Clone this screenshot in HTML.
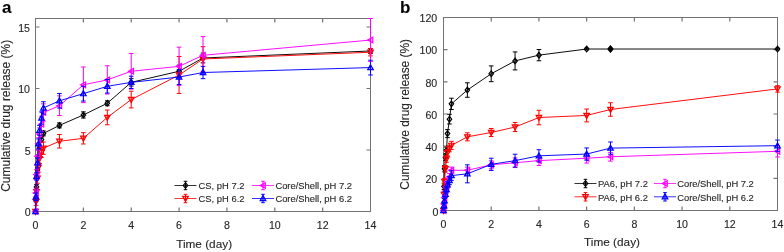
<!DOCTYPE html>
<html><head><meta charset="utf-8"><style>
html,body{margin:0;padding:0;background:#fff;}
body{width:784px;height:252px;overflow:hidden;}
svg{display:block;font-family:"Liberation Sans",sans-serif;filter:blur(0.4px);}
text{stroke:#262626;stroke-width:0.12px;}
</style></head><body>
<svg width="784" height="252" viewBox="0 0 784 252">
<rect x="35.5" y="18.5" width="335.0" height="193.0" fill="none" stroke="#737373"/>
<path d="M83.36 211.5V207.5M83.36 18.5V22.5M131.21 211.5V207.5M131.21 18.5V22.5M179.07 211.5V207.5M179.07 18.5V22.5M226.93 211.5V207.5M226.93 18.5V22.5M274.79 211.5V207.5M274.79 18.5V22.5M322.64 211.5V207.5M322.64 18.5V22.5M35.5 150.00H39.5M370.5 150.00H366.5M35.5 88.50H39.5M370.5 88.50H366.5M35.5 27.00H39.5M370.5 27.00H366.5" fill="none" stroke="#737373" stroke-width="1.2"/>
<rect x="443.5" y="17.5" width="334.0" height="193.0" fill="none" stroke="#737373"/>
<path d="M491.21 210.5V206.5M491.21 17.5V21.5M538.93 210.5V206.5M538.93 17.5V21.5M586.64 210.5V206.5M586.64 17.5V21.5M634.36 210.5V206.5M634.36 17.5V21.5M682.07 210.5V206.5M682.07 17.5V21.5M729.79 210.5V206.5M729.79 17.5V21.5M443.5 178.33H447.5M777.5 178.33H773.5M443.5 146.17H447.5M777.5 146.17H773.5M443.5 114.00H447.5M777.5 114.00H773.5M443.5 81.83H447.5M777.5 81.83H773.5M443.5 49.67H447.5M777.5 49.67H773.5" fill="none" stroke="#737373" stroke-width="1.2"/>
<defs><clipPath id="ca"><rect x="30" y="18" width="345" height="200"/></clipPath><clipPath id="cb"><rect x="438" y="17" width="345" height="200"/></clipPath></defs>
<g clip-path="url(#ca)">
<polyline points="35.50,211.50 36.00,199.20 36.51,186.90 37.49,169.68 38.49,157.38 39.50,147.54 41.48,139.55 43.47,133.39 59.43,125.40 83.36,114.94 107.29,103.26 131.21,82.35 179.07,71.28 203.00,58.00 370.50,50.98" fill="none" stroke="#000000" stroke-width="0.95"/>
<path d="M35.50 208.70L37.74 211.50L35.50 214.30L33.26 211.50Z" fill="#000000" fill-opacity="0.15" stroke="#000000" stroke-width="1.2"/>
<path d="M36.00 196.74V201.66M33.70 196.74H38.30M33.70 201.66H38.30" fill="none" stroke="#000000"/>
<path d="M36.00 196.40L38.24 199.20L36.00 202.00L33.76 199.20Z" fill="#000000" fill-opacity="0.15" stroke="#000000" stroke-width="1.2"/>
<path d="M36.51 184.44V189.36M34.21 184.44H38.80M34.21 189.36H38.80" fill="none" stroke="#000000"/>
<path d="M36.51 184.10L38.75 186.90L36.51 189.70L34.27 186.90Z" fill="#000000" fill-opacity="0.15" stroke="#000000" stroke-width="1.2"/>
<path d="M37.49 167.22V172.14M35.19 167.22H39.79M35.19 172.14H39.79" fill="none" stroke="#000000"/>
<path d="M37.49 166.88L39.73 169.68L37.49 172.48L35.25 169.68Z" fill="#000000" fill-opacity="0.15" stroke="#000000" stroke-width="1.2"/>
<path d="M38.49 154.92V159.84M36.19 154.92H40.79M36.19 159.84H40.79" fill="none" stroke="#000000"/>
<path d="M38.49 154.58L40.73 157.38L38.49 160.18L36.25 157.38Z" fill="#000000" fill-opacity="0.15" stroke="#000000" stroke-width="1.2"/>
<path d="M39.50 145.08V150.00M37.20 145.08H41.80M37.20 150.00H41.80" fill="none" stroke="#000000"/>
<path d="M39.50 144.74L41.74 147.54L39.50 150.34L37.26 147.54Z" fill="#000000" fill-opacity="0.15" stroke="#000000" stroke-width="1.2"/>
<path d="M41.48 137.08V142.00M39.18 137.08H43.78M39.18 142.00H43.78" fill="none" stroke="#000000"/>
<path d="M41.48 136.75L43.72 139.55L41.48 142.35L39.24 139.55Z" fill="#000000" fill-opacity="0.15" stroke="#000000" stroke-width="1.2"/>
<path d="M43.47 130.94V135.86M41.17 130.94H45.77M41.17 135.86H45.77" fill="none" stroke="#000000"/>
<path d="M43.47 130.59L45.71 133.39L43.47 136.19L41.23 133.39Z" fill="#000000" fill-opacity="0.15" stroke="#000000" stroke-width="1.2"/>
<path d="M59.43 122.94V127.86M57.13 122.94H61.73M57.13 127.86H61.73" fill="none" stroke="#000000"/>
<path d="M59.43 122.60L61.67 125.40L59.43 128.20L57.19 125.40Z" fill="#000000" fill-opacity="0.15" stroke="#000000" stroke-width="1.2"/>
<path d="M83.36 111.87V118.02M81.06 111.87H85.66M81.06 118.02H85.66" fill="none" stroke="#000000"/>
<path d="M83.36 112.14L85.60 114.94L83.36 117.74L81.12 114.94Z" fill="#000000" fill-opacity="0.15" stroke="#000000" stroke-width="1.2"/>
<path d="M107.29 100.80V105.72M104.99 100.80H109.59M104.99 105.72H109.59" fill="none" stroke="#000000"/>
<path d="M107.29 100.46L109.53 103.26L107.29 106.06L105.05 103.26Z" fill="#000000" fill-opacity="0.15" stroke="#000000" stroke-width="1.2"/>
<path d="M131.21 78.66V86.04M128.91 78.66H133.51M128.91 86.04H133.51" fill="none" stroke="#000000"/>
<path d="M131.21 79.55L133.45 82.35L131.21 85.15L128.97 82.35Z" fill="#000000" fill-opacity="0.15" stroke="#000000" stroke-width="1.2"/>
<path d="M179.07 65.13V77.43M176.77 65.13H181.37M176.77 77.43H181.37" fill="none" stroke="#000000"/>
<path d="M179.07 68.48L181.31 71.28L179.07 74.08L176.83 71.28Z" fill="#000000" fill-opacity="0.15" stroke="#000000" stroke-width="1.2"/>
<path d="M203.00 53.08V62.92M200.70 53.08H205.30M200.70 62.92H205.30" fill="none" stroke="#000000"/>
<path d="M203.00 55.20L205.24 58.00L203.00 60.80L200.76 58.00Z" fill="#000000" fill-opacity="0.15" stroke="#000000" stroke-width="1.2"/>
<path d="M370.50 48.52V53.44M368.20 48.52H372.80M368.20 53.44H372.80" fill="none" stroke="#000000"/>
<path d="M370.50 48.18L372.74 50.98L370.50 53.78L368.26 50.98Z" fill="#000000" fill-opacity="0.15" stroke="#000000" stroke-width="1.2"/>
<polyline points="35.50,211.50 36.00,201.66 36.51,191.82 37.49,178.29 38.49,167.22 39.50,158.61 41.48,152.46 43.47,148.16 59.43,141.27 83.36,138.31 107.29,117.40 131.21,99.57 179.07,74.97 203.00,58.98 370.50,52.22" fill="none" stroke="#ff0000" stroke-width="0.95"/>
<path d="M32.70 209.40L38.30 209.40L35.50 214.44Z" fill="#ff0000" fill-opacity="0.3" stroke="#ff0000" stroke-width="1.2"/>
<path d="M36.00 197.97V205.35M33.70 197.97H38.30M33.70 205.35H38.30" fill="none" stroke="#ff0000"/>
<path d="M33.20 199.56L38.80 199.56L36.00 204.60Z" fill="#ff0000" fill-opacity="0.3" stroke="#ff0000" stroke-width="1.2"/>
<path d="M36.51 188.13V195.51M34.21 188.13H38.80M34.21 195.51H38.80" fill="none" stroke="#ff0000"/>
<path d="M33.71 189.72L39.30 189.72L36.51 194.76Z" fill="#ff0000" fill-opacity="0.3" stroke="#ff0000" stroke-width="1.2"/>
<path d="M37.49 173.37V183.21M35.19 173.37H39.79M35.19 183.21H39.79" fill="none" stroke="#ff0000"/>
<path d="M34.69 176.19L40.29 176.19L37.49 181.23Z" fill="#ff0000" fill-opacity="0.3" stroke="#ff0000" stroke-width="1.2"/>
<path d="M38.49 162.30V172.14M36.19 162.30H40.79M36.19 172.14H40.79" fill="none" stroke="#ff0000"/>
<path d="M35.69 165.12L41.29 165.12L38.49 170.16Z" fill="#ff0000" fill-opacity="0.3" stroke="#ff0000" stroke-width="1.2"/>
<path d="M39.50 153.69V163.53M37.20 153.69H41.80M37.20 163.53H41.80" fill="none" stroke="#ff0000"/>
<path d="M36.70 156.51L42.30 156.51L39.50 161.55Z" fill="#ff0000" fill-opacity="0.3" stroke="#ff0000" stroke-width="1.2"/>
<path d="M41.48 147.54V157.38M39.18 147.54H43.78M39.18 157.38H43.78" fill="none" stroke="#ff0000"/>
<path d="M38.68 150.36L44.28 150.36L41.48 155.40Z" fill="#ff0000" fill-opacity="0.3" stroke="#ff0000" stroke-width="1.2"/>
<path d="M43.47 142.00V154.31M41.17 142.00H45.77M41.17 154.31H45.77" fill="none" stroke="#ff0000"/>
<path d="M40.67 146.06L46.27 146.06L43.47 151.09Z" fill="#ff0000" fill-opacity="0.3" stroke="#ff0000" stroke-width="1.2"/>
<path d="M59.43 134.50V148.03M57.13 134.50H61.73M57.13 148.03H61.73" fill="none" stroke="#ff0000"/>
<path d="M56.63 139.17L62.23 139.17L59.43 144.21Z" fill="#ff0000" fill-opacity="0.3" stroke="#ff0000" stroke-width="1.2"/>
<path d="M83.36 132.66V143.97M81.06 132.66H85.66M81.06 143.97H85.66" fill="none" stroke="#ff0000"/>
<path d="M80.56 136.22L86.16 136.22L83.36 141.25Z" fill="#ff0000" fill-opacity="0.3" stroke="#ff0000" stroke-width="1.2"/>
<path d="M107.29 110.02V124.78M104.99 110.02H109.59M104.99 124.78H109.59" fill="none" stroke="#ff0000"/>
<path d="M104.49 115.30L110.09 115.30L107.29 120.34Z" fill="#ff0000" fill-opacity="0.3" stroke="#ff0000" stroke-width="1.2"/>
<path d="M131.21 91.21V107.93M128.91 91.21H133.51M128.91 107.93H133.51" fill="none" stroke="#ff0000"/>
<path d="M128.41 97.47L134.01 97.47L131.21 102.51Z" fill="#ff0000" fill-opacity="0.3" stroke="#ff0000" stroke-width="1.2"/>
<path d="M179.07 56.52V93.42M176.77 56.52H181.37M176.77 93.42H181.37" fill="none" stroke="#ff0000"/>
<path d="M176.27 72.87L181.87 72.87L179.07 77.91Z" fill="#ff0000" fill-opacity="0.3" stroke="#ff0000" stroke-width="1.2"/>
<path d="M203.00 46.68V71.28M200.70 46.68H205.30M200.70 71.28H205.30" fill="none" stroke="#ff0000"/>
<path d="M200.20 56.88L205.80 56.88L203.00 61.92Z" fill="#ff0000" fill-opacity="0.3" stroke="#ff0000" stroke-width="1.2"/>
<path d="M370.50 48.52V55.91M368.20 48.52H372.80M368.20 55.91H372.80" fill="none" stroke="#ff0000"/>
<path d="M367.70 50.12L373.30 50.12L370.50 55.16Z" fill="#ff0000" fill-opacity="0.3" stroke="#ff0000" stroke-width="1.2"/>
<polyline points="35.50,211.50 36.00,193.05 36.51,174.60 37.49,156.15 38.49,143.85 39.50,134.01 41.48,124.17 43.47,112.48 59.43,105.72 83.36,84.81 107.29,79.89 131.21,71.28 179.07,66.36 203.00,55.29 370.50,40.04" fill="none" stroke="#ff00ff" stroke-width="0.95"/>
<path d="M37.74 208.70L37.74 214.30L32.70 211.50Z" fill="#ff00ff" fill-opacity="0.3" stroke="#ff00ff" stroke-width="1.2"/>
<path d="M36.00 189.36V196.74M33.70 189.36H38.30M33.70 196.74H38.30" fill="none" stroke="#ff00ff"/>
<path d="M38.24 190.25L38.24 195.85L33.20 193.05Z" fill="#ff00ff" fill-opacity="0.3" stroke="#ff00ff" stroke-width="1.2"/>
<path d="M36.51 169.68V179.52M34.21 169.68H38.80M34.21 179.52H38.80" fill="none" stroke="#ff00ff"/>
<path d="M38.75 171.80L38.75 177.40L33.71 174.60Z" fill="#ff00ff" fill-opacity="0.3" stroke="#ff00ff" stroke-width="1.2"/>
<path d="M37.49 150.00V162.30M35.19 150.00H39.79M35.19 162.30H39.79" fill="none" stroke="#ff00ff"/>
<path d="M39.73 153.35L39.73 158.95L34.69 156.15Z" fill="#ff00ff" fill-opacity="0.3" stroke="#ff00ff" stroke-width="1.2"/>
<path d="M38.49 137.70V150.00M36.19 137.70H40.79M36.19 150.00H40.79" fill="none" stroke="#ff00ff"/>
<path d="M40.73 141.05L40.73 146.65L35.69 143.85Z" fill="#ff00ff" fill-opacity="0.3" stroke="#ff00ff" stroke-width="1.2"/>
<path d="M39.50 127.86V140.16M37.20 127.86H41.80M37.20 140.16H41.80" fill="none" stroke="#ff00ff"/>
<path d="M41.74 131.21L41.74 136.81L36.70 134.01Z" fill="#ff00ff" fill-opacity="0.3" stroke="#ff00ff" stroke-width="1.2"/>
<path d="M41.48 116.79V131.55M39.18 116.79H43.78M39.18 131.55H43.78" fill="none" stroke="#ff00ff"/>
<path d="M43.72 121.37L43.72 126.97L38.68 124.17Z" fill="#ff00ff" fill-opacity="0.3" stroke="#ff00ff" stroke-width="1.2"/>
<path d="M43.47 103.88V121.09M41.17 103.88H45.77M41.17 121.09H45.77" fill="none" stroke="#ff00ff"/>
<path d="M45.71 109.68L45.71 115.28L40.67 112.48Z" fill="#ff00ff" fill-opacity="0.3" stroke="#ff00ff" stroke-width="1.2"/>
<path d="M59.43 95.88V115.56M57.13 95.88H61.73M57.13 115.56H61.73" fill="none" stroke="#ff00ff"/>
<path d="M61.67 102.92L61.67 108.52L56.63 105.72Z" fill="#ff00ff" fill-opacity="0.3" stroke="#ff00ff" stroke-width="1.2"/>
<path d="M83.36 66.97V102.64M81.06 66.97H85.66M81.06 102.64H85.66" fill="none" stroke="#ff00ff"/>
<path d="M85.60 82.01L85.60 87.61L80.56 84.81Z" fill="#ff00ff" fill-opacity="0.3" stroke="#ff00ff" stroke-width="1.2"/>
<path d="M107.29 65.75V94.04M104.99 65.75H109.59M104.99 94.04H109.59" fill="none" stroke="#ff00ff"/>
<path d="M109.53 77.09L109.53 82.69L104.49 79.89Z" fill="#ff00ff" fill-opacity="0.3" stroke="#ff00ff" stroke-width="1.2"/>
<path d="M131.21 53.44V89.11M128.91 53.44H133.51M128.91 89.11H133.51" fill="none" stroke="#ff00ff"/>
<path d="M133.45 68.48L133.45 74.08L128.41 71.28Z" fill="#ff00ff" fill-opacity="0.3" stroke="#ff00ff" stroke-width="1.2"/>
<path d="M179.07 47.17V85.55M176.77 47.17H181.37M176.77 85.55H181.37" fill="none" stroke="#ff00ff"/>
<path d="M181.31 63.56L181.31 69.16L176.27 66.36Z" fill="#ff00ff" fill-opacity="0.3" stroke="#ff00ff" stroke-width="1.2"/>
<path d="M203.00 36.59V73.99M200.70 36.59H205.30M200.70 73.99H205.30" fill="none" stroke="#ff00ff"/>
<path d="M205.24 52.49L205.24 58.09L200.20 55.29Z" fill="#ff00ff" fill-opacity="0.3" stroke="#ff00ff" stroke-width="1.2"/>
<path d="M370.50 18.51V61.56M368.20 18.51H372.80M368.20 61.56H372.80" fill="none" stroke="#ff00ff"/>
<path d="M372.74 37.24L372.74 42.84L367.70 40.04Z" fill="#ff00ff" fill-opacity="0.3" stroke="#ff00ff" stroke-width="1.2"/>
<polyline points="35.50,211.50 36.00,196.74 36.51,176.44 37.49,162.91 38.49,143.85 39.50,130.32 41.48,118.02 43.47,107.93 59.43,100.80 83.36,93.67 107.29,86.29 131.21,82.35 179.07,77.06 203.00,72.51 370.50,67.59" fill="none" stroke="#0000ff" stroke-width="0.95"/>
<path d="M32.70 213.60L38.30 213.60L35.50 208.56Z" fill="#0000ff" fill-opacity="0.3" stroke="#0000ff" stroke-width="1.2"/>
<path d="M36.00 193.05V200.43M33.70 193.05H38.30M33.70 200.43H38.30" fill="none" stroke="#0000ff"/>
<path d="M33.20 198.84L38.80 198.84L36.00 193.80Z" fill="#0000ff" fill-opacity="0.3" stroke="#0000ff" stroke-width="1.2"/>
<path d="M36.51 172.75V180.13M34.21 172.75H38.80M34.21 180.13H38.80" fill="none" stroke="#0000ff"/>
<path d="M33.71 178.54L39.30 178.54L36.51 173.50Z" fill="#0000ff" fill-opacity="0.3" stroke="#0000ff" stroke-width="1.2"/>
<path d="M37.49 158.00V167.83M35.19 158.00H39.79M35.19 167.83H39.79" fill="none" stroke="#0000ff"/>
<path d="M34.69 165.01L40.29 165.01L37.49 159.97Z" fill="#0000ff" fill-opacity="0.3" stroke="#0000ff" stroke-width="1.2"/>
<path d="M38.49 138.93V148.77M36.19 138.93H40.79M36.19 148.77H40.79" fill="none" stroke="#0000ff"/>
<path d="M35.69 145.95L41.29 145.95L38.49 140.91Z" fill="#0000ff" fill-opacity="0.3" stroke="#0000ff" stroke-width="1.2"/>
<path d="M39.50 125.40V135.24M37.20 125.40H41.80M37.20 135.24H41.80" fill="none" stroke="#0000ff"/>
<path d="M36.70 132.42L42.30 132.42L39.50 127.38Z" fill="#0000ff" fill-opacity="0.3" stroke="#0000ff" stroke-width="1.2"/>
<path d="M41.48 111.87V124.17M39.18 111.87H43.78M39.18 124.17H43.78" fill="none" stroke="#0000ff"/>
<path d="M38.68 120.12L44.28 120.12L41.48 115.08Z" fill="#0000ff" fill-opacity="0.3" stroke="#0000ff" stroke-width="1.2"/>
<path d="M43.47 101.78V114.08M41.17 101.78H45.77M41.17 114.08H45.77" fill="none" stroke="#0000ff"/>
<path d="M40.67 110.03L46.27 110.03L43.47 104.99Z" fill="#0000ff" fill-opacity="0.3" stroke="#0000ff" stroke-width="1.2"/>
<path d="M59.43 93.54V108.06M57.13 93.54H61.73M57.13 108.06H61.73" fill="none" stroke="#0000ff"/>
<path d="M56.63 102.90L62.23 102.90L59.43 97.86Z" fill="#0000ff" fill-opacity="0.3" stroke="#0000ff" stroke-width="1.2"/>
<path d="M83.36 86.29V101.05M81.06 86.29H85.66M81.06 101.05H85.66" fill="none" stroke="#0000ff"/>
<path d="M80.56 95.77L86.16 95.77L83.36 90.73Z" fill="#0000ff" fill-opacity="0.3" stroke="#0000ff" stroke-width="1.2"/>
<path d="M107.29 79.52V93.05M104.99 79.52H109.59M104.99 93.05H109.59" fill="none" stroke="#0000ff"/>
<path d="M104.49 88.39L110.09 88.39L107.29 83.35Z" fill="#0000ff" fill-opacity="0.3" stroke="#0000ff" stroke-width="1.2"/>
<path d="M131.21 76.20V88.50M128.91 76.20H133.51M128.91 88.50H133.51" fill="none" stroke="#0000ff"/>
<path d="M128.41 84.45L134.01 84.45L131.21 79.41Z" fill="#0000ff" fill-opacity="0.3" stroke="#0000ff" stroke-width="1.2"/>
<path d="M179.07 69.68V84.44M176.77 69.68H181.37M176.77 84.44H181.37" fill="none" stroke="#0000ff"/>
<path d="M176.27 79.16L181.87 79.16L179.07 74.12Z" fill="#0000ff" fill-opacity="0.3" stroke="#0000ff" stroke-width="1.2"/>
<path d="M203.00 66.36V78.66M200.70 66.36H205.30M200.70 78.66H205.30" fill="none" stroke="#0000ff"/>
<path d="M200.20 74.61L205.80 74.61L203.00 69.57Z" fill="#0000ff" fill-opacity="0.3" stroke="#0000ff" stroke-width="1.2"/>
<path d="M370.50 60.21V74.97M368.20 60.21H372.80M368.20 74.97H372.80" fill="none" stroke="#0000ff"/>
<path d="M367.70 69.69L373.30 69.69L370.50 64.65Z" fill="#0000ff" fill-opacity="0.3" stroke="#0000ff" stroke-width="1.2"/>
</g>
<g clip-path="url(#cb)">
<polyline points="443.50,210.50 444.00,186.38 444.50,168.68 445.48,157.43 446.48,150.35 447.48,133.62 449.46,119.15 451.44,103.87 467.36,90.04 491.21,73.79 515.07,60.92 538.93,55.13 586.64,49.02 610.50,49.02 777.50,49.02" fill="none" stroke="#000000" stroke-width="0.95"/>
<path d="M443.50 207.70L445.74 210.50L443.50 213.30L441.26 210.50Z" fill="#000000" fill-opacity="0.15" stroke="#000000" stroke-width="1.2"/>
<path d="M444.00 183.16V189.59M441.70 183.16H446.30M441.70 189.59H446.30" fill="none" stroke="#000000"/>
<path d="M444.00 183.57L446.24 186.38L444.00 189.18L441.76 186.38Z" fill="#000000" fill-opacity="0.15" stroke="#000000" stroke-width="1.2"/>
<path d="M444.50 165.47V171.90M442.20 165.47H446.80M442.20 171.90H446.80" fill="none" stroke="#000000"/>
<path d="M444.50 165.88L446.74 168.68L444.50 171.48L442.26 168.68Z" fill="#000000" fill-opacity="0.15" stroke="#000000" stroke-width="1.2"/>
<path d="M445.48 154.21V160.64M443.18 154.21H447.78M443.18 160.64H447.78" fill="none" stroke="#000000"/>
<path d="M445.48 154.62L447.72 157.43L445.48 160.23L443.24 157.43Z" fill="#000000" fill-opacity="0.15" stroke="#000000" stroke-width="1.2"/>
<path d="M446.48 147.13V153.56M444.18 147.13H448.78M444.18 153.56H448.78" fill="none" stroke="#000000"/>
<path d="M446.48 147.55L448.72 150.35L446.48 153.15L444.24 150.35Z" fill="#000000" fill-opacity="0.15" stroke="#000000" stroke-width="1.2"/>
<path d="M447.48 129.60V137.64M445.18 129.60H449.78M445.18 137.64H449.78" fill="none" stroke="#000000"/>
<path d="M447.48 130.82L449.72 133.62L447.48 136.42L445.24 133.62Z" fill="#000000" fill-opacity="0.15" stroke="#000000" stroke-width="1.2"/>
<path d="M449.46 114.32V123.97M447.16 114.32H451.76M447.16 123.97H451.76" fill="none" stroke="#000000"/>
<path d="M449.46 116.35L451.70 119.15L449.46 121.95L447.22 119.15Z" fill="#000000" fill-opacity="0.15" stroke="#000000" stroke-width="1.2"/>
<path d="M451.44 98.24V109.50M449.14 98.24H453.74M449.14 109.50H453.74" fill="none" stroke="#000000"/>
<path d="M451.44 101.07L453.68 103.87L451.44 106.67L449.20 103.87Z" fill="#000000" fill-opacity="0.15" stroke="#000000" stroke-width="1.2"/>
<path d="M467.36 82.80V97.27M465.06 82.80H469.66M465.06 97.27H469.66" fill="none" stroke="#000000"/>
<path d="M467.36 87.24L469.60 90.04L467.36 92.84L465.12 90.04Z" fill="#000000" fill-opacity="0.15" stroke="#000000" stroke-width="1.2"/>
<path d="M491.21 65.91V81.67M488.91 65.91H493.51M488.91 81.67H493.51" fill="none" stroke="#000000"/>
<path d="M491.21 70.99L493.45 73.79L491.21 76.59L488.97 73.79Z" fill="#000000" fill-opacity="0.15" stroke="#000000" stroke-width="1.2"/>
<path d="M515.07 51.92V69.93M512.77 51.92H517.37M512.77 69.93H517.37" fill="none" stroke="#000000"/>
<path d="M515.07 58.12L517.31 60.92L515.07 63.72L512.83 60.92Z" fill="#000000" fill-opacity="0.15" stroke="#000000" stroke-width="1.2"/>
<path d="M538.93 49.51V60.76M536.63 49.51H541.23M536.63 60.76H541.23" fill="none" stroke="#000000"/>
<path d="M538.93 52.33L541.17 55.13L538.93 57.93L536.69 55.13Z" fill="#000000" fill-opacity="0.15" stroke="#000000" stroke-width="1.2"/>
<path d="M586.64 48.22V49.83M584.34 48.22H588.94M584.34 49.83H588.94" fill="none" stroke="#000000"/>
<path d="M586.64 46.22L588.88 49.02L586.64 51.82L584.40 49.02Z" fill="#000000" fill-opacity="0.15" stroke="#000000" stroke-width="1.2"/>
<path d="M610.50 48.22V49.83M608.20 48.22H612.80M608.20 49.83H612.80" fill="none" stroke="#000000"/>
<path d="M610.50 46.22L612.74 49.02L610.50 51.82L608.26 49.02Z" fill="#000000" fill-opacity="0.15" stroke="#000000" stroke-width="1.2"/>
<path d="M777.50 48.22V49.83M775.20 48.22H779.80M775.20 49.83H779.80" fill="none" stroke="#000000"/>
<path d="M777.50 46.22L779.74 49.02L777.50 51.82L775.26 49.02Z" fill="#000000" fill-opacity="0.15" stroke="#000000" stroke-width="1.2"/>
<polyline points="443.50,210.50 444.00,194.42 444.50,181.55 445.48,168.68 446.48,159.03 447.48,152.60 449.46,148.58 451.44,145.36 467.36,136.84 491.21,132.50 515.07,127.03 538.93,117.54 586.64,115.45 610.50,109.50 777.50,88.91" fill="none" stroke="#ff0000" stroke-width="0.95"/>
<path d="M440.70 208.40L446.30 208.40L443.50 213.44Z" fill="#ff0000" fill-opacity="0.3" stroke="#ff0000" stroke-width="1.2"/>
<path d="M444.00 191.20V197.63M441.70 191.20H446.30M441.70 197.63H446.30" fill="none" stroke="#ff0000"/>
<path d="M441.20 192.32L446.80 192.32L444.00 197.36Z" fill="#ff0000" fill-opacity="0.3" stroke="#ff0000" stroke-width="1.2"/>
<path d="M444.50 178.33V184.77M442.20 178.33H446.80M442.20 184.77H446.80" fill="none" stroke="#ff0000"/>
<path d="M441.70 179.45L447.30 179.45L444.50 184.49Z" fill="#ff0000" fill-opacity="0.3" stroke="#ff0000" stroke-width="1.2"/>
<path d="M445.48 165.47V171.90M443.18 165.47H447.78M443.18 171.90H447.78" fill="none" stroke="#ff0000"/>
<path d="M442.68 166.58L448.28 166.58L445.48 171.62Z" fill="#ff0000" fill-opacity="0.3" stroke="#ff0000" stroke-width="1.2"/>
<path d="M446.48 155.82V162.25M444.18 155.82H448.78M444.18 162.25H448.78" fill="none" stroke="#ff0000"/>
<path d="M443.68 156.93L449.28 156.93L446.48 161.97Z" fill="#ff0000" fill-opacity="0.3" stroke="#ff0000" stroke-width="1.2"/>
<path d="M447.48 149.38V155.82M445.18 149.38H449.78M445.18 155.82H449.78" fill="none" stroke="#ff0000"/>
<path d="M444.68 150.50L450.28 150.50L447.48 155.54Z" fill="#ff0000" fill-opacity="0.3" stroke="#ff0000" stroke-width="1.2"/>
<path d="M449.46 145.36V151.80M447.16 145.36H451.76M447.16 151.80H451.76" fill="none" stroke="#ff0000"/>
<path d="M446.66 146.48L452.26 146.48L449.46 151.52Z" fill="#ff0000" fill-opacity="0.3" stroke="#ff0000" stroke-width="1.2"/>
<path d="M451.44 141.34V149.38M449.14 141.34H453.74M449.14 149.38H453.74" fill="none" stroke="#ff0000"/>
<path d="M448.64 143.26L454.24 143.26L451.44 148.30Z" fill="#ff0000" fill-opacity="0.3" stroke="#ff0000" stroke-width="1.2"/>
<path d="M467.36 132.82V140.86M465.06 132.82H469.66M465.06 140.86H469.66" fill="none" stroke="#ff0000"/>
<path d="M464.56 134.74L470.16 134.74L467.36 139.78Z" fill="#ff0000" fill-opacity="0.3" stroke="#ff0000" stroke-width="1.2"/>
<path d="M491.21 128.47V136.52M488.91 128.47H493.51M488.91 136.52H493.51" fill="none" stroke="#ff0000"/>
<path d="M488.41 130.40L494.01 130.40L491.21 135.44Z" fill="#ff0000" fill-opacity="0.3" stroke="#ff0000" stroke-width="1.2"/>
<path d="M515.07 122.52V131.53M512.77 122.52H517.37M512.77 131.53H517.37" fill="none" stroke="#ff0000"/>
<path d="M512.27 124.93L517.87 124.93L515.07 129.97Z" fill="#ff0000" fill-opacity="0.3" stroke="#ff0000" stroke-width="1.2"/>
<path d="M538.93 110.30V124.78M536.63 110.30H541.23M536.63 124.78H541.23" fill="none" stroke="#ff0000"/>
<path d="M536.13 115.44L541.73 115.44L538.93 120.48Z" fill="#ff0000" fill-opacity="0.3" stroke="#ff0000" stroke-width="1.2"/>
<path d="M586.64 109.01V121.88M584.34 109.01H588.94M584.34 121.88H588.94" fill="none" stroke="#ff0000"/>
<path d="M583.84 113.35L589.44 113.35L586.64 118.39Z" fill="#ff0000" fill-opacity="0.3" stroke="#ff0000" stroke-width="1.2"/>
<path d="M610.50 102.74V116.25M608.20 102.74H612.80M608.20 116.25H612.80" fill="none" stroke="#ff0000"/>
<path d="M607.70 107.40L613.30 107.40L610.50 112.44Z" fill="#ff0000" fill-opacity="0.3" stroke="#ff0000" stroke-width="1.2"/>
<path d="M777.50 85.69V92.13M775.20 85.69H779.80M775.20 92.13H779.80" fill="none" stroke="#ff0000"/>
<path d="M774.70 86.81L780.30 86.81L777.50 91.85Z" fill="#ff0000" fill-opacity="0.3" stroke="#ff0000" stroke-width="1.2"/>
<polyline points="443.50,210.50 444.00,204.07 444.50,197.63 445.48,191.20 446.48,186.38 447.48,181.55 449.46,176.72 451.44,170.29 467.36,170.29 491.21,164.82 515.07,162.73 538.93,160.64 586.64,158.23 610.50,156.78 777.50,151.31" fill="none" stroke="#ff00ff" stroke-width="0.95"/>
<path d="M445.74 207.70L445.74 213.30L440.70 210.50Z" fill="#ff00ff" fill-opacity="0.3" stroke="#ff00ff" stroke-width="1.2"/>
<path d="M444.00 201.65V206.48M441.70 201.65H446.30M441.70 206.48H446.30" fill="none" stroke="#ff00ff"/>
<path d="M446.24 201.27L446.24 206.87L441.20 204.07Z" fill="#ff00ff" fill-opacity="0.3" stroke="#ff00ff" stroke-width="1.2"/>
<path d="M444.50 195.22V200.05M442.20 195.22H446.80M442.20 200.05H446.80" fill="none" stroke="#ff00ff"/>
<path d="M446.74 194.83L446.74 200.43L441.70 197.63Z" fill="#ff00ff" fill-opacity="0.3" stroke="#ff00ff" stroke-width="1.2"/>
<path d="M445.48 187.98V194.42M443.18 187.98H447.78M443.18 194.42H447.78" fill="none" stroke="#ff00ff"/>
<path d="M447.72 188.40L447.72 194.00L442.68 191.20Z" fill="#ff00ff" fill-opacity="0.3" stroke="#ff00ff" stroke-width="1.2"/>
<path d="M446.48 183.16V189.59M444.18 183.16H448.78M444.18 189.59H448.78" fill="none" stroke="#ff00ff"/>
<path d="M448.72 183.57L448.72 189.18L443.68 186.38Z" fill="#ff00ff" fill-opacity="0.3" stroke="#ff00ff" stroke-width="1.2"/>
<path d="M447.48 178.33V184.77M445.18 178.33H449.78M445.18 184.77H449.78" fill="none" stroke="#ff00ff"/>
<path d="M449.72 178.75L449.72 184.35L444.68 181.55Z" fill="#ff00ff" fill-opacity="0.3" stroke="#ff00ff" stroke-width="1.2"/>
<path d="M449.46 173.51V179.94M447.16 173.51H451.76M447.16 179.94H451.76" fill="none" stroke="#ff00ff"/>
<path d="M451.70 173.92L451.70 179.53L446.66 176.72Z" fill="#ff00ff" fill-opacity="0.3" stroke="#ff00ff" stroke-width="1.2"/>
<path d="M451.44 167.07V173.51M449.14 167.07H453.74M449.14 173.51H453.74" fill="none" stroke="#ff00ff"/>
<path d="M453.68 167.49L453.68 173.09L448.64 170.29Z" fill="#ff00ff" fill-opacity="0.3" stroke="#ff00ff" stroke-width="1.2"/>
<path d="M467.36 167.07V173.51M465.06 167.07H469.66M465.06 173.51H469.66" fill="none" stroke="#ff00ff"/>
<path d="M469.60 167.49L469.60 173.09L464.56 170.29Z" fill="#ff00ff" fill-opacity="0.3" stroke="#ff00ff" stroke-width="1.2"/>
<path d="M491.21 160.80V168.84M488.91 160.80H493.51M488.91 168.84H493.51" fill="none" stroke="#ff00ff"/>
<path d="M493.45 162.02L493.45 167.62L488.41 164.82Z" fill="#ff00ff" fill-opacity="0.3" stroke="#ff00ff" stroke-width="1.2"/>
<path d="M515.07 157.91V167.56M512.77 157.91H517.37M512.77 167.56H517.37" fill="none" stroke="#ff00ff"/>
<path d="M517.31 159.93L517.31 165.53L512.27 162.73Z" fill="#ff00ff" fill-opacity="0.3" stroke="#ff00ff" stroke-width="1.2"/>
<path d="M538.93 155.82V165.47M536.63 155.82H541.23M536.63 165.47H541.23" fill="none" stroke="#ff00ff"/>
<path d="M541.17 157.84L541.17 163.44L536.13 160.64Z" fill="#ff00ff" fill-opacity="0.3" stroke="#ff00ff" stroke-width="1.2"/>
<path d="M586.64 153.40V163.05M584.34 153.40H588.94M584.34 163.05H588.94" fill="none" stroke="#ff00ff"/>
<path d="M588.88 155.43L588.88 161.03L583.84 158.23Z" fill="#ff00ff" fill-opacity="0.3" stroke="#ff00ff" stroke-width="1.2"/>
<path d="M610.50 152.44V161.12M608.20 152.44H612.80M608.20 161.12H612.80" fill="none" stroke="#ff00ff"/>
<path d="M612.74 153.98L612.74 159.58L607.70 156.78Z" fill="#ff00ff" fill-opacity="0.3" stroke="#ff00ff" stroke-width="1.2"/>
<path d="M777.50 145.68V156.94M775.20 145.68H779.80M775.20 156.94H779.80" fill="none" stroke="#ff00ff"/>
<path d="M779.74 148.51L779.74 154.11L774.70 151.31Z" fill="#ff00ff" fill-opacity="0.3" stroke="#ff00ff" stroke-width="1.2"/>
<polyline points="443.50,210.50 444.00,205.68 444.50,200.85 445.48,194.42 446.48,189.59 447.48,184.77 449.46,180.59 451.44,175.60 467.36,173.83 491.21,164.34 515.07,160.64 538.93,155.82 586.64,154.05 610.50,148.10 777.50,145.68" fill="none" stroke="#0000ff" stroke-width="0.95"/>
<path d="M440.70 212.60L446.30 212.60L443.50 207.56Z" fill="#0000ff" fill-opacity="0.3" stroke="#0000ff" stroke-width="1.2"/>
<path d="M444.00 203.26V208.09M441.70 203.26H446.30M441.70 208.09H446.30" fill="none" stroke="#0000ff"/>
<path d="M441.20 207.78L446.80 207.78L444.00 202.74Z" fill="#0000ff" fill-opacity="0.3" stroke="#0000ff" stroke-width="1.2"/>
<path d="M444.50 198.44V203.26M442.20 198.44H446.80M442.20 203.26H446.80" fill="none" stroke="#0000ff"/>
<path d="M441.70 202.95L447.30 202.95L444.50 197.91Z" fill="#0000ff" fill-opacity="0.3" stroke="#0000ff" stroke-width="1.2"/>
<path d="M445.48 191.20V197.63M443.18 191.20H447.78M443.18 197.63H447.78" fill="none" stroke="#0000ff"/>
<path d="M442.68 196.52L448.28 196.52L445.48 191.48Z" fill="#0000ff" fill-opacity="0.3" stroke="#0000ff" stroke-width="1.2"/>
<path d="M446.48 186.38V192.81M444.18 186.38H448.78M444.18 192.81H448.78" fill="none" stroke="#0000ff"/>
<path d="M443.68 191.69L449.28 191.69L446.48 186.65Z" fill="#0000ff" fill-opacity="0.3" stroke="#0000ff" stroke-width="1.2"/>
<path d="M447.48 181.55V187.98M445.18 181.55H449.78M445.18 187.98H449.78" fill="none" stroke="#0000ff"/>
<path d="M444.68 186.87L450.28 186.87L447.48 181.83Z" fill="#0000ff" fill-opacity="0.3" stroke="#0000ff" stroke-width="1.2"/>
<path d="M449.46 176.56V184.61M447.16 176.56H451.76M447.16 184.61H451.76" fill="none" stroke="#0000ff"/>
<path d="M446.66 182.69L452.26 182.69L449.46 177.65Z" fill="#0000ff" fill-opacity="0.3" stroke="#0000ff" stroke-width="1.2"/>
<path d="M451.44 170.77V180.42M449.14 170.77H453.74M449.14 180.42H453.74" fill="none" stroke="#0000ff"/>
<path d="M448.64 177.70L454.24 177.70L451.44 172.66Z" fill="#0000ff" fill-opacity="0.3" stroke="#0000ff" stroke-width="1.2"/>
<path d="M467.36 164.82V182.84M465.06 164.82H469.66M465.06 182.84H469.66" fill="none" stroke="#0000ff"/>
<path d="M464.56 175.93L470.16 175.93L467.36 170.89Z" fill="#0000ff" fill-opacity="0.3" stroke="#0000ff" stroke-width="1.2"/>
<path d="M491.21 158.23V170.45M488.91 158.23H493.51M488.91 170.45H493.51" fill="none" stroke="#0000ff"/>
<path d="M488.41 166.44L494.01 166.44L491.21 161.40Z" fill="#0000ff" fill-opacity="0.3" stroke="#0000ff" stroke-width="1.2"/>
<path d="M515.07 154.21V167.07M512.77 154.21H517.37M512.77 167.07H517.37" fill="none" stroke="#0000ff"/>
<path d="M512.27 162.74L517.87 162.74L515.07 157.70Z" fill="#0000ff" fill-opacity="0.3" stroke="#0000ff" stroke-width="1.2"/>
<path d="M538.93 149.71V161.93M536.63 149.71H541.23M536.63 161.93H541.23" fill="none" stroke="#0000ff"/>
<path d="M536.13 157.92L541.73 157.92L538.93 152.88Z" fill="#0000ff" fill-opacity="0.3" stroke="#0000ff" stroke-width="1.2"/>
<path d="M586.64 147.94V160.16M584.34 147.94H588.94M584.34 160.16H588.94" fill="none" stroke="#0000ff"/>
<path d="M583.84 156.15L589.44 156.15L586.64 151.11Z" fill="#0000ff" fill-opacity="0.3" stroke="#0000ff" stroke-width="1.2"/>
<path d="M610.50 141.99V154.21M608.20 141.99H612.80M608.20 154.21H612.80" fill="none" stroke="#0000ff"/>
<path d="M607.70 150.20L613.30 150.20L610.50 145.16Z" fill="#0000ff" fill-opacity="0.3" stroke="#0000ff" stroke-width="1.2"/>
<path d="M777.50 140.06V151.31M775.20 140.06H779.80M775.20 151.31H779.80" fill="none" stroke="#0000ff"/>
<path d="M774.70 147.78L780.30 147.78L777.50 142.74Z" fill="#0000ff" fill-opacity="0.3" stroke="#0000ff" stroke-width="1.2"/>
</g>
<path d="M610.50 46.02l2.4 3l-2.4 3l-2.4 -3Z" fill="#000" stroke="#000" stroke-width="1.2"/>
<g font-size="10.6" fill="#262626"><text x="35.50" y="228.7" text-anchor="middle">0</text><text x="443.50" y="227.7" text-anchor="middle">0</text><text x="83.36" y="228.7" text-anchor="middle">2</text><text x="491.21" y="227.7" text-anchor="middle">2</text><text x="131.21" y="228.7" text-anchor="middle">4</text><text x="538.93" y="227.7" text-anchor="middle">4</text><text x="179.07" y="228.7" text-anchor="middle">6</text><text x="586.64" y="227.7" text-anchor="middle">6</text><text x="226.93" y="228.7" text-anchor="middle">8</text><text x="634.36" y="227.7" text-anchor="middle">8</text><text x="274.79" y="228.7" text-anchor="middle">10</text><text x="682.07" y="227.7" text-anchor="middle">10</text><text x="322.64" y="228.7" text-anchor="middle">12</text><text x="729.79" y="227.7" text-anchor="middle">12</text><text x="370.50" y="228.7" text-anchor="middle">14</text><text x="777.50" y="227.7" text-anchor="middle">14</text><text x="30.6" y="216.30" text-anchor="end">0</text><text x="30.6" y="154.80" text-anchor="end">5</text><text x="30" y="93.30" text-anchor="end">10</text><text x="30" y="31.80" text-anchor="end">15</text><text x="438.4" y="215.90" text-anchor="end">0</text><text x="437.2" y="183.13" text-anchor="end">20</text><text x="437.2" y="150.97" text-anchor="end">40</text><text x="437.2" y="118.80" text-anchor="end">60</text><text x="437.2" y="86.63" text-anchor="end">80</text><text x="437.2" y="54.47" text-anchor="end">100</text><text x="437.2" y="22.30" text-anchor="end">120</text></g>
<g font-size="11.8" fill="#262626"><text x="204.1" y="248.3" text-anchor="middle">Time (day)</text><text x="612" y="246.1" text-anchor="middle">Time (day)</text><text transform="translate(10.4 115.8) rotate(-90)" text-anchor="middle" font-size="12">Cumulative drug release (%)</text><text transform="translate(409.4 114.3) rotate(-90)" text-anchor="middle" font-size="11.9">Cumulative drug release (%)</text></g>
<g font-size="17" font-weight="bold" fill="#000"><text x="2" y="12.7">a</text><text x="400" y="12.7">b</text></g>
<path d="M174.50 185.50H196.50" stroke="#000000" stroke-width="0.8"/>
<path d="M185.50 181.30V189.70M183.70 181.30H187.30M183.70 189.70H187.30" fill="none" stroke="#000000"/>
<path d="M185.50 182.70L187.74 185.50L185.50 188.30L183.26 185.50Z" fill="#000000" fill-opacity="0.15" stroke="#000000" stroke-width="1.2"/>
<text x="198.60" y="189.40" font-size="9.4" fill="#262626">CS, pH 7.2</text>
<path d="M174.50 198.50H196.50" stroke="#ff0000" stroke-width="0.8"/>
<path d="M185.50 194.30V202.70M183.70 194.30H187.30M183.70 202.70H187.30" fill="none" stroke="#ff0000"/>
<path d="M182.70 196.40L188.30 196.40L185.50 201.44Z" fill="#ff0000" fill-opacity="0.3" stroke="#ff0000" stroke-width="1.2"/>
<text x="198.60" y="202.40" font-size="9.4" fill="#262626">CS, pH 6.2</text>
<path d="M252.00 185.50H274.00" stroke="#ff00ff" stroke-width="0.8"/>
<path d="M263.00 181.30V189.70M261.20 181.30H264.80M261.20 189.70H264.80" fill="none" stroke="#ff00ff"/>
<path d="M265.24 182.70L265.24 188.30L260.20 185.50Z" fill="#ff00ff" fill-opacity="0.3" stroke="#ff00ff" stroke-width="1.2"/>
<text x="275.40" y="189.40" font-size="9.4" fill="#262626">Core/Shell, pH 7.2</text>
<path d="M252.00 198.50H274.00" stroke="#0000ff" stroke-width="0.8"/>
<path d="M263.00 194.30V202.70M261.20 194.30H264.80M261.20 202.70H264.80" fill="none" stroke="#0000ff"/>
<path d="M260.20 200.60L265.80 200.60L263.00 195.56Z" fill="#0000ff" fill-opacity="0.3" stroke="#0000ff" stroke-width="1.2"/>
<text x="275.40" y="202.40" font-size="9.4" fill="#262626">Core/Shell, pH 6.2</text>
<path d="M574.50 183.50H596.50" stroke="#000000" stroke-width="0.8"/>
<path d="M585.50 179.30V187.70M583.70 179.30H587.30M583.70 187.70H587.30" fill="none" stroke="#000000"/>
<path d="M585.50 180.70L587.74 183.50L585.50 186.30L583.26 183.50Z" fill="#000000" fill-opacity="0.15" stroke="#000000" stroke-width="1.2"/>
<text x="598.00" y="187.40" font-size="9.4" fill="#262626">PA6, pH 7.2</text>
<path d="M574.50 196.80H596.50" stroke="#ff0000" stroke-width="0.8"/>
<path d="M585.50 192.60V201.00M583.70 192.60H587.30M583.70 201.00H587.30" fill="none" stroke="#ff0000"/>
<path d="M582.70 194.70L588.30 194.70L585.50 199.74Z" fill="#ff0000" fill-opacity="0.3" stroke="#ff0000" stroke-width="1.2"/>
<text x="598.00" y="200.70" font-size="9.4" fill="#262626">PA6, pH 6.2</text>
<path d="M654.00 183.50H676.00" stroke="#ff00ff" stroke-width="0.8"/>
<path d="M665.00 179.30V187.70M663.20 179.30H666.80M663.20 187.70H666.80" fill="none" stroke="#ff00ff"/>
<path d="M667.24 180.70L667.24 186.30L662.20 183.50Z" fill="#ff00ff" fill-opacity="0.3" stroke="#ff00ff" stroke-width="1.2"/>
<text x="677.20" y="187.40" font-size="9.4" fill="#262626">Core/Shell, pH 7.2</text>
<path d="M654.00 196.80H676.00" stroke="#0000ff" stroke-width="0.8"/>
<path d="M665.00 192.60V201.00M663.20 192.60H666.80M663.20 201.00H666.80" fill="none" stroke="#0000ff"/>
<path d="M662.20 198.90L667.80 198.90L665.00 193.86Z" fill="#0000ff" fill-opacity="0.3" stroke="#0000ff" stroke-width="1.2"/>
<text x="677.20" y="200.70" font-size="9.4" fill="#262626">Core/Shell, pH 6.2</text>
</svg>
</body></html>
